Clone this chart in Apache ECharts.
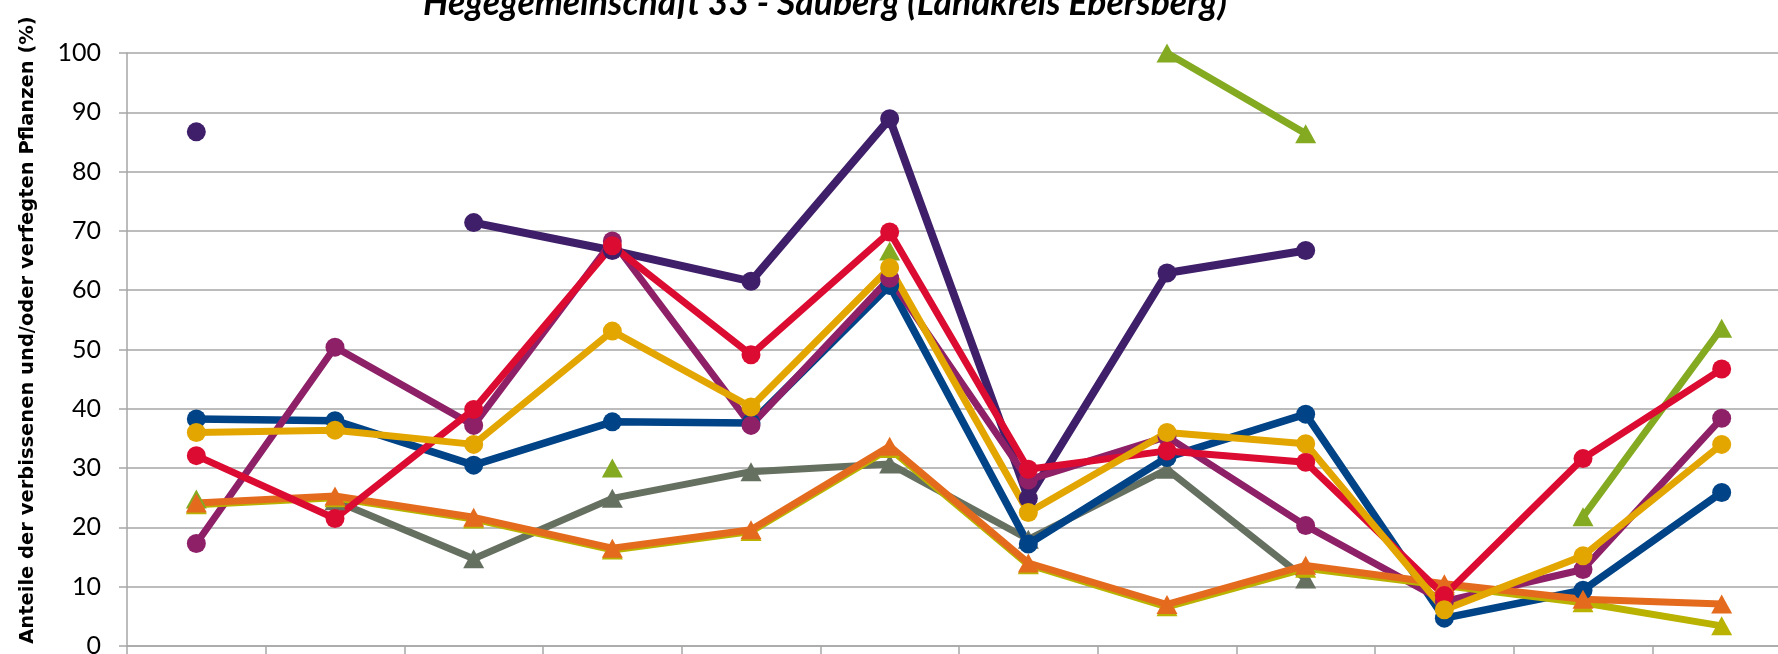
<!DOCTYPE html>
<html>
<head>
<meta charset="utf-8">
<script src="https://cdn.jsdelivr.net/npm/echarts@6/dist/echarts.min.js"></script>
<style>
html,body{margin:0;padding:0;background:#fff;}
#c{width:1778px;height:654px;}
</style>
</head>
<body>
<div id="c"></div>
<script>
const titleText = 'Hegegemeinschaft 33 - Sauberg (Landkreis Ebersberg)';
const yAxisTitle = 'Anteile der verbissenen und/oder verfegten Pflanzen (%)';
const categories = ['1','2','3','4','5','6','7','8','9','10','11','12'];
const yTicks = {min: 0, max: 100, interval: 10};

const seriesNames = ['Reihe 1','Reihe 2','Reihe 3','Reihe 4','Reihe 5','Reihe 6','Reihe 7','Reihe 8','Reihe 9'];
const greenTri   = [24.8, null, null, 30.0, null, 66.6, null, 100, 86.4, null, 21.8, 53.6];
const darkPurple = [86.7, null, 71.4, 66.7, 61.5, 88.9, 24.9, 62.9, 66.7, null, null, null];
const greyTri    = [null, 24.5, 14.7, 24.9, 29.4, 30.7, 18.0, 29.8, 11.3, null, null, null];
const blueCirc   = [38.3, 38.0, 30.5, 37.8, 37.6, 60.8, 17.2, 31.8, 39.1, 4.7, 9.4, 25.9];
const magentaCirc= [17.3, 50.4, 37.2, 68.3, 37.2, 62.0, 28.0, 35.3, 20.3, 7.5, 12.9, 38.4];
const oliveTri   = [23.8, 25.0, 21.4, 16.2, 19.3, 33.3, 13.7, 6.6, 13.1, 10.2, 7.3, 3.4];
const orangeTri  = [24.1, 25.3, 21.7, 16.5, 19.6, 33.7, 14.0, 7.0, 13.6, 10.5, 7.9, 7.1];
const redCirc    = [32.1, 21.5, 39.9, 67.5, 49.1, 69.8, 29.8, 32.9, 31.0, 8.5, 31.6, 46.7];
const goldCirc   = [36.0, 36.4, 34.0, 53.1, 40.3, 63.8, 22.5, 36.0, 34.1, 6.1, 15.2, 34.0];

const seriesDefs = [
  {data: greenTri,    color: '#84aa22', symbol: 'triangle', width: 7},
  {data: darkPurple,  color: '#3f1f69', symbol: 'circle',   width: 8},
  {data: greyTri,     color: '#667060', symbol: 'triangle', width: 7},
  {data: blueCirc,    color: '#004386', symbol: 'circle',   width: 7.5},
  {data: magentaCirc, color: '#8e2068', symbol: 'circle',   width: 7},
  {data: oliveTri,    color: '#bab200', symbol: 'triangle', width: 7},
  {data: orangeTri,   color: '#e46b1e', symbol: 'triangle', width: 7},
  {data: redCirc,     color: '#dc0b31', symbol: 'circle',   width: 7},
  {data: goldCirc,    color: '#e3a600', symbol: 'circle',   width: 7}
];

const chart = echarts.init(document.getElementById('c'), null, {renderer: 'canvas'});
chart.setOption({
  animation: false,
  backgroundColor: '#ffffff',
  title: {
    text: titleText,
    left: 418,
    top: -19,
    textStyle: {fontFamily: 'Lato', fontStyle: 'italic', fontWeight: 'bold', fontSize: 35.5, color: '#000'}
  },
  graphic: [{
    type: 'text',
    x: 28, y: 330,
    rotation: Math.PI / 2,
    style: {
      text: yAxisTitle,
      fontFamily: 'DejaVu Sans', fontWeight: 'bold', fontSize: 19.5,
      fill: '#000', textAlign: 'center', textVerticalAlign: 'middle'
    }
  }],
  grid: {left: 127, top: 53, right: -13, bottom: 8, containLabel: false, outerBoundsMode: 'none'},
  xAxis: {
    type: 'category',
    data: categories,
    boundaryGap: true,
    axisLine: {show: true, lineStyle: {color: '#a6a6a6', width: 1.5}},
    axisTick: {show: true, inside: false, length: 8, alignWithLabel: false, lineStyle: {color: '#a6a6a6', width: 1.5}},
    axisLabel: {show: false},
    splitLine: {show: false}
  },
  yAxis: {
    type: 'value',
    min: yTicks.min, max: yTicks.max, interval: yTicks.interval,
    axisLine: {show: true, lineStyle: {color: '#a6a6a6', width: 1.5}},
    axisTick: {show: true, inside: false, length: 8, lineStyle: {color: '#a6a6a6', width: 1.5}},
    axisLabel: {margin: 26, fontFamily: 'Lato', fontSize: 25, color: '#000'},
    splitLine: {show: true, lineStyle: {color: '#a6a6a6', width: 1.5}}
  },
  series: seriesDefs.map((s, i) => ({
    name: seriesNames[i],
    type: 'line',
    data: s.data,
    symbol: s.symbol,
    symbolSize: s.symbol === 'circle' ? 19 : [21, 19],
    showSymbol: true,
    showAllSymbol: true,
    connectNulls: false,
    lineStyle: {color: s.color, width: s.width},
    itemStyle: {color: s.color, borderWidth: 0},
    emphasis: {disabled: true}
  }))
});
</script>
</body>
</html>
